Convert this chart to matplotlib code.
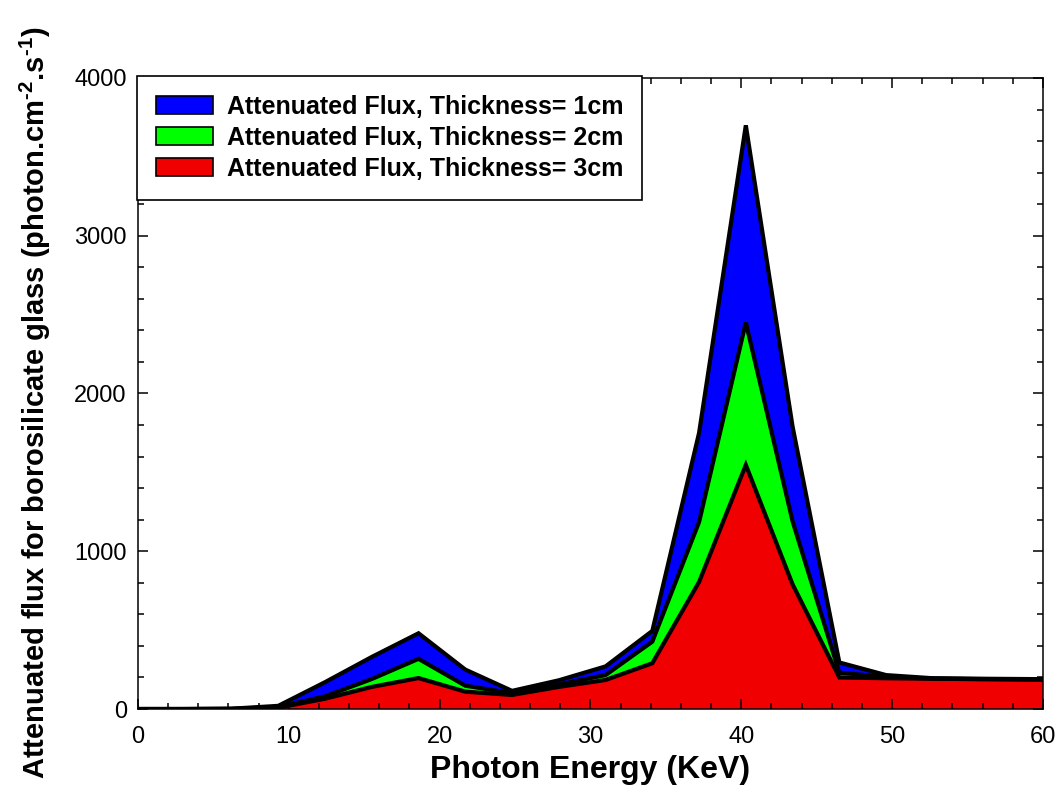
import matplotlib
matplotlib.use("Agg")
import matplotlib.pyplot as plt
from matplotlib.ticker import MultipleLocator

plt.rcParams['font.family'] = ['Liberation Sans', 'DejaVu Sans']
plt.rcParams['mathtext.fontset'] = 'custom'
plt.rcParams['mathtext.rm'] = 'Liberation Sans:bold'
plt.rcParams['mathtext.default'] = 'rm'

# photon energy (keV) and attenuated flux for the three thicknesses
energy = [0, 3.1, 6.2, 9.3, 12.4, 15.5, 18.6, 21.7, 24.8, 27.9, 31.0,
          34.1, 37.2, 40.3, 43.4, 46.5, 49.6, 52.7, 55.8, 58.9, 62.0]
flux_1cm = [0, 0, 2, 20, 170, 330, 480, 250, 115, 182, 270,
            495, 1750, 3700, 1790, 295, 215, 195, 192, 190, 188]
flux_2cm = [0, 0, 1, 12, 80, 190, 318, 148, 100, 155, 215,
            427, 1185, 2450, 1190, 230, 203, 193, 190, 188, 186]
flux_3cm = [0, 0, 0.5, 8, 65, 140, 196, 110, 89, 140, 184,
            290, 805, 1547, 790, 200, 195, 192, 189, 187, 185]

series = [(flux_1cm, '#0000ff', 'Attenuated Flux, Thickness= 1cm'),
          (flux_2cm, '#00ff00', 'Attenuated Flux, Thickness= 2cm'),
          (flux_3cm, '#f00000', 'Attenuated Flux, Thickness= 3cm')]

fig = plt.figure(figsize=(10.58, 8.09), dpi=100)
ax = fig.add_axes([0.1304, 0.1236, 0.8554, 0.78])

for vals, col, lab in series:
    ax.fill_between(energy, 0, vals, facecolor=col, edgecolor='none', label=lab)
    ax.plot(energy, vals, color='black', lw=3, solid_joinstyle='miter')

ax.set_xlim(0, 60)
ax.set_ylim(0, 4000)
ax.xaxis.set_major_locator(MultipleLocator(10))
ax.xaxis.set_minor_locator(MultipleLocator(2))
ax.yaxis.set_major_locator(MultipleLocator(1000))
ax.yaxis.set_minor_locator(MultipleLocator(200))
ax.tick_params(which='both', direction='in', top=True, right=True, width=1.1)
ax.tick_params(which='major', length=7)
ax.tick_params(which='minor', length=4)
ax.tick_params(axis='x', labelsize=17, pad=12)
ax.tick_params(axis='y', labelsize=17, pad=8)
for s in ax.spines.values():
    s.set_linewidth(1.1)

ax.set_xlabel('Photon Energy (KeV)', fontsize=23, fontweight='bold', labelpad=5)
ax.set_ylabel(r'Attenuated flux for borosilicate glass (photon.cm$^{\text{-2}}$.s$^{\text{-1}}$)',
              fontsize=21, fontweight='bold')
ax.yaxis.set_label_coords(-0.094, 0.485)

leg = ax.legend(loc='upper left', bbox_to_anchor=(-0.001, 1.003), borderaxespad=0,
                fancybox=False, framealpha=1, edgecolor='black',
                prop={'size': 18, 'weight': 'bold'},
                handlelength=2.3, handleheight=0.72, handletextpad=0.55,
                labelspacing=0.28, borderpad=0.75)
leg.get_frame().set_linewidth(1.2)
for h in leg.legend_handles:
    h.set_edgecolor('black')
    h.set_linewidth(1.2)

fig.savefig('out.png', dpi=100)
